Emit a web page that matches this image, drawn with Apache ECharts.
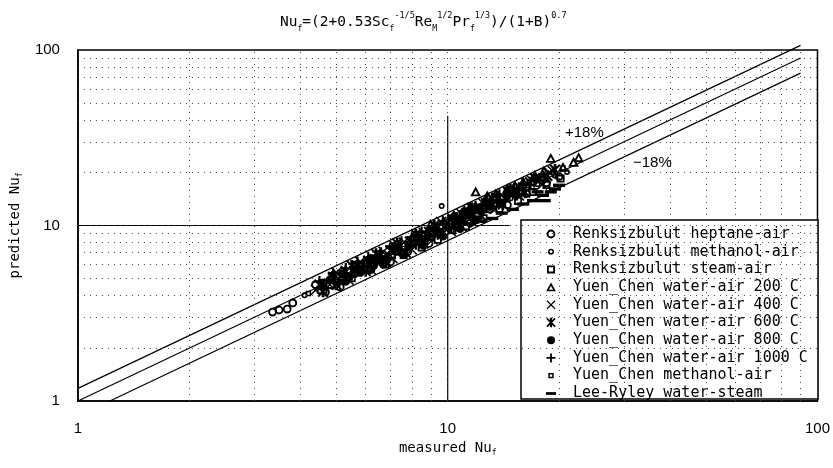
<!DOCTYPE html>
<html><head><meta charset="utf-8">
<script src="https://cdn.jsdelivr.net/npm/echarts@6/dist/echarts.min.js"></script>
<style>html,body{margin:0;padding:0;background:#fff}#c{width:833px;height:468px}</style>
</head><body><div id="c"></div>
<script>
// ---- data ----
const seriesNames = [
  'Renksizbulut heptane-air', 'Renksizbulut methanol-air', 'Renksizbulut steam-air',
  'Yuen_Chen water-air 200 C', 'Yuen_Chen water-air 400 C', 'Yuen_Chen water-air 600 C',
  'Yuen_Chen water-air 800 C', 'Yuen_Chen water-air 1000 C', 'Yuen_Chen methanol-air',
  'Lee-Ryley water-steam'
];
const heptaneAir = [[3.36,3.21],[3.5,3.3],[3.68,3.34],[3.81,3.62],[4.39,4.6],[4.67,4.17],[5.12,4.46],[5.6,5.3],[6.2,5.6],[7.0,6.2],[7.8,7.1],[8.9,7.9],[10.2,9.5],[11.5,10.3],[13.0,12.4],[14.5,13.1],[16.3,15.2],[18.5,17.5],[20.0,19.0]];
const methanolAirR = [[9.63,12.9],[4.1,4.0],[4.5,4.2],[5.0,4.9],[5.8,5.6],[6.5,6.3],[7.3,7.0],[8.3,8.0],[9.5,9.1],[10.8,10.5],[12.5,12.2],[14.8,14.3],[17.5,17.2],[19.5,19.2],[21.0,20.2]];
const steamAir = [[5.5,5.0],[6.2,5.7],[6.8,6.0],[7.6,6.8],[8.5,7.5],[9.4,8.3],[10.3,9.4],[11.2,9.9],[12.5,11.0],[13.8,12.4],[15.5,13.8],[17.0,15.5],[18.5,17.0],[20.2,18.5]];
const water200 = [[8.2,9.0],[9.0,10.2],[10.5,11.2],[11.0,12.0],[11.5,12.8],[11.9,15.6],[12.5,13.6],[12.8,14.8],[13.5,15.2],[14.5,16.3],[15.2,17.0],[16.0,17.8],[17.2,19.4],[18.2,20.5],[19.0,24.2],[20.5,21.5],[21.9,23.0],[22.6,24.4]];
const water400 = [[4.4,4.3],[4.8,4.6],[5.2,5.0],[5.6,5.5],[6.0,5.8],[6.4,6.3],[6.9,6.8],[7.3,7.3],[7.8,7.6],[8.3,8.4],[8.8,8.8],[9.3,9.5],[9.9,10.1],[10.6,10.9],[11.3,11.8],[12.1,12.6],[13.0,13.7],[14.0,14.8],[15.1,16.0],[16.3,17.4],[17.6,18.8],[18.8,20.1],
  [5.0,5.4],[5.4,4.9],[5.8,6.2],[6.2,5.6],[6.7,7.1],[7.1,6.5],[7.6,8.0],[8.0,7.3],[8.6,9.1],[9.1,8.3],[9.6,10.5],[10.2,9.3],[10.9,11.6],[11.6,10.6],[12.5,13.3],[13.4,12.4],[14.5,15.7],[15.6,14.8],[16.8,18.2],[18.0,17.1],[19.2,20.5]];
const water600 = [[4.5,4.6],[4.9,5.1],[5.3,5.5],[5.7,5.8],[6.1,6.3],[6.5,6.7],[7.0,7.2],[7.4,7.6],[7.9,8.1],[8.4,8.7],[8.9,9.2],[9.4,9.8],[10.0,10.4],[10.6,11.1],[11.2,11.7],[11.9,12.5],[12.7,13.4],[13.6,14.2],[14.6,15.4],[15.6,16.4],[16.7,17.6],[17.8,18.5],
  [4.6,4.2],[5.0,4.6],[5.5,5.9],[6.0,5.5],[6.4,6.9],[6.8,6.2],[7.3,7.9],[7.7,7.0],[8.2,8.9],[8.6,7.9],[9.2,10.0],[9.7,9.0],[10.3,10.9],[10.9,9.9],[11.6,12.6],[12.3,11.4],[13.2,14.3],[14.1,13.2],[15.1,15.9],[16.2,15.4],[17.2,18.6],[18.6,19.2],[19.5,20.8]];
const water800 = [[4.6,4.5],[4.8,4.9],[5.0,4.7],[5.2,5.3],[5.4,5.1],[5.6,5.6],[5.8,5.4],[6.0,6.1],[6.3,5.9],[6.6,6.5],[6.9,6.6],[7.2,7.2],[7.5,7.0],[7.9,7.8],[8.3,8.1],[8.7,8.4],[9.1,9.0],[9.5,9.2],[10.0,9.9],[10.5,10.2],[11.0,11.0],[11.6,11.3],[12.3,12.0],[13.0,12.8],[13.8,13.6],
  [4.9,5.2],[5.3,4.8],[5.7,6.0],[6.2,6.5],[6.7,6.0],[7.1,7.6],[7.6,6.8],[8.1,8.6],[8.6,7.7],[9.2,9.8],[9.7,8.7],[10.3,11.0],[10.8,9.6],[11.4,12.1],[12.0,10.8],[12.7,13.5],[14.5,14.8],[15.3,15.0]];
const water1000 = [[4.7,4.4],[5.1,4.8],[5.5,5.2],[5.9,5.6],[6.3,6.0],[6.8,6.4],[7.2,6.9],[7.7,7.3],[8.2,7.8],[8.8,8.3],[9.4,8.9],[10.1,9.6],[10.8,10.3],[11.6,11.0],[12.4,11.9],[13.3,12.8],[14.3,13.8],[15.4,14.9],
  [4.5,4.8],[4.9,5.3],[5.3,5.7],[5.7,6.2],[6.1,6.6],[6.6,7.0],[7.0,7.6],[7.5,8.1],[8.0,8.6],[8.5,9.2],[9.1,9.8],[9.7,10.6],[10.4,11.3],[11.1,12.1],[11.9,12.9],[12.8,13.9],[13.8,15.0],[14.8,16.1],[16.0,17.2],[17.3,18.4]];
const methanolAirY = [[4.2,4.1],[4.6,4.8],[5.1,5.4],[5.7,6.0],[6.4,6.6],[7.1,7.4],[8.0,8.3],[8.9,9.3],[9.8,10.3],[10.9,11.6],[12.1,12.9],[13.4,14.4],[14.9,15.8],[16.6,17.6],[18.3,19.2],[20.5,21.3]];
const leeRyley = [[11.5,10.2],[12.3,10.6],[13.2,11.0],[14.0,11.8],[15.0,12.4],[16.0,13.3],[17.0,13.9],[17.5,15.6],[18.1,14.9],[18.3,13.9],[19.0,15.6],[19.5,16.2],[20.0,17.0]];
const seriesData = [heptaneAir, methanolAirR, steamAir, water200, water400, water600, water800, water1000, methanolAirY, leeRyley];

const parityLine = [[1,1],[90,90]];
const upperLine = [[1,1.18],[90,106.2]];
const lowerLine = [[1.22,1],[90,73.8]];
const crossH = [[1,10],[14.7,10]];
const crossV = [[10,1],[10,42]];
const gridValues = [2,3,4,5,6,7,8,9,10,20,30,40,50,60,70,80,90];
const axisMin = 1, axisMax = 100;

// ---- symbols (10x10 frame) ----
const A = 'M0,0M10,10';
const symbols = [
  'path://'+A+'M5,0.6A4.4,4.4 0 1,1 5,9.4A4.4,4.4 0 1,1 5,0.6Z M5,2.5A2.5,2.5 0 1,0 5,7.5A2.5,2.5 0 1,0 5,2.5Z',
  'path://'+A+'M5,2.0A3,3 0 1,1 5,8A3,3 0 1,1 5,2.0Z M5,3.6A1.4,1.4 0 1,0 5,6.4A1.4,1.4 0 1,0 5,3.6Z',
  'path://'+A+'M1,1H9V9H1Z M2.8,2.8V7.2H7.2V2.8Z',
  'path://'+A+'M5,0.3L9.9,9.2H0.1Z M5,3.9L2.9,7.6H7.1Z',
  'path://'+A+'M1.4,0.5L5,4.1L8.6,0.5L9.5,1.4L5.9,5L9.5,8.6L8.6,9.5L5,5.9L1.4,9.5L0.5,8.6L4.1,5L0.5,1.4Z',
  'path://'+A+'M1.5,0.3L5,3.8L8.5,0.3L9.7,1.5L6.2,5L9.7,8.5L8.5,9.7L5,6.2L1.5,9.7L0.3,8.5L3.8,5L0.3,1.5Z M3.9,0.3H6.1V9.7H3.9Z',
  'path://'+A+'M5,1A4,4 0 1,1 5,9A4,4 0 1,1 5,1Z',
  'path://'+A+'M4.1,0.5H5.9V4.1H9.5V5.9H5.9V9.5H4.1V5.9H0.5V4.1H4.1Z',
  'path://'+A+'M2.3,2.3H7.7V7.7H2.3Z M3.8,3.8V6.2H6.2V3.8Z',
  'path://'+A+'M0,3.8H10V6.6H0Z'
];
const sizes = [10,10,10,11,12,12,11,12,10,12];

const mono = 'DejaVu Sans Mono';
const series = [];
series.push({
  type:'line', name:'_grid', data:[], z:1, silent:true,
  markLine:{silent:true, symbol:'none', label:{show:false}, animation:false,
    lineStyle:{color:'#444', type:[1,5], width:1},
    data: gridValues.map(v=>({xAxis:v})).concat(gridValues.map(v=>({yAxis:v})))}
});
const refLine = (name, d, clip) => ({type:'line', name, data:d, symbol:'none', z:3, clip:clip, silent:true,
  lineStyle:{color:'#000', width:1.2}});
series.push(refLine('_parity', parityLine, true));
series.push(refLine('_upper', upperLine, false));
series.push(refLine('_lower', lowerLine, true));
series.push(refLine('_h', crossH, true));
series.push(refLine('_v', crossV, true));
seriesNames.forEach((n,i)=>{
  series.push({type:'scatter', name:n, data:seriesData[i], symbol:symbols[i], symbolSize:sizes[i],
    symbolKeepAspect:true, z:2, itemStyle:{color:'#000', borderWidth:0, opacity:1}});
});

const chart = echarts.init(document.getElementById('c'), null, {renderer:'canvas'});
chart.setOption({
  animation:false,
  backgroundColor:'#fff',
  title:{
    left:275, top:6,
    text:'{m|Nu}{s|f}{m|=(2+0.53Sc}{s|f}{p|-1/5}{m|Re}{s|M}{p|1/2}{m|Pr}{s|f}{p|1/3}{m|)/(1+B)}{p|0.7}',
    textStyle:{fontWeight:'normal', rich:{
      m:{fontFamily:mono, fontSize:14.5, fontWeight:'normal', lineHeight:22, verticalAlign:'middle', color:'#000'},
      s:{fontFamily:mono, fontSize:8, fontWeight:'normal', lineHeight:10, verticalAlign:'bottom', color:'#000'},
      p:{fontFamily:mono, fontSize:8.5, fontWeight:'normal', lineHeight:10, verticalAlign:'top', color:'#000'}
    }}
  },
  grid:{left:74, right:15, top:50, bottom:67, show:true, borderColor:'#000', borderWidth:1.5, backgroundColor:'transparent'},
  xAxis:{type:'log', logBase:10, min:axisMin, max:axisMax,
    name:'{m|measured Nu}{s|f}', nameLocation:'middle', nameGap:36,
    nameTextStyle:{rich:{
      m:{fontFamily:mono, fontSize:14, lineHeight:18, verticalAlign:'middle', color:'#000'},
      s:{fontFamily:mono, fontSize:8, lineHeight:9, verticalAlign:'bottom', color:'#000'}}},
    axisLine:{show:true, lineStyle:{color:'#000', width:1.5}},
    axisTick:{show:false}, splitLine:{show:false},
    axisLabel:{color:'#000', fontFamily:'Liberation Sans', fontSize:15, margin:20}},
  yAxis:{type:'log', logBase:10, min:axisMin, max:axisMax,
    name:'{m|predicted Nu}{s|f}', nameLocation:'middle', nameGap:49,
    nameTextStyle:{rich:{
      m:{fontFamily:mono, fontSize:14, lineHeight:18, verticalAlign:'middle', color:'#000'},
      s:{fontFamily:mono, fontSize:8, lineHeight:9, verticalAlign:'bottom', color:'#000'}}},
    axisLine:{show:true, lineStyle:{color:'#000', width:1.5}},
    axisTick:{show:false}, splitLine:{show:false},
    axisLabel:{color:'#000', fontFamily:'Liberation Sans', fontSize:15, margin:18}},
  legend:{
    data:seriesNames, orient:'vertical', left:541, top:221,
    itemWidth:34, itemHeight:10, itemGap:1.7, symbolKeepAspect:true,
    textStyle:{fontFamily:mono, fontSize:15, lineHeight:16, color:'#000'},
    selectedMode:false
  },
  graphic:[
    {type:'rect', z:3, shape:{x:521, y:220, width:297, height:179}, style:{fill:'#fff', stroke:'#000', lineWidth:1.5}},
    {type:'text', z:5, left:565, top:125, style:{text:'+18%', font:'15px "Liberation Sans"', fill:'#000'}},
    {type:'text', z:5, left:633, top:155, style:{text:'\u221218%', font:'15px "Liberation Sans"', fill:'#000'}}
  ],
  series:series
});
</script></body></html>
